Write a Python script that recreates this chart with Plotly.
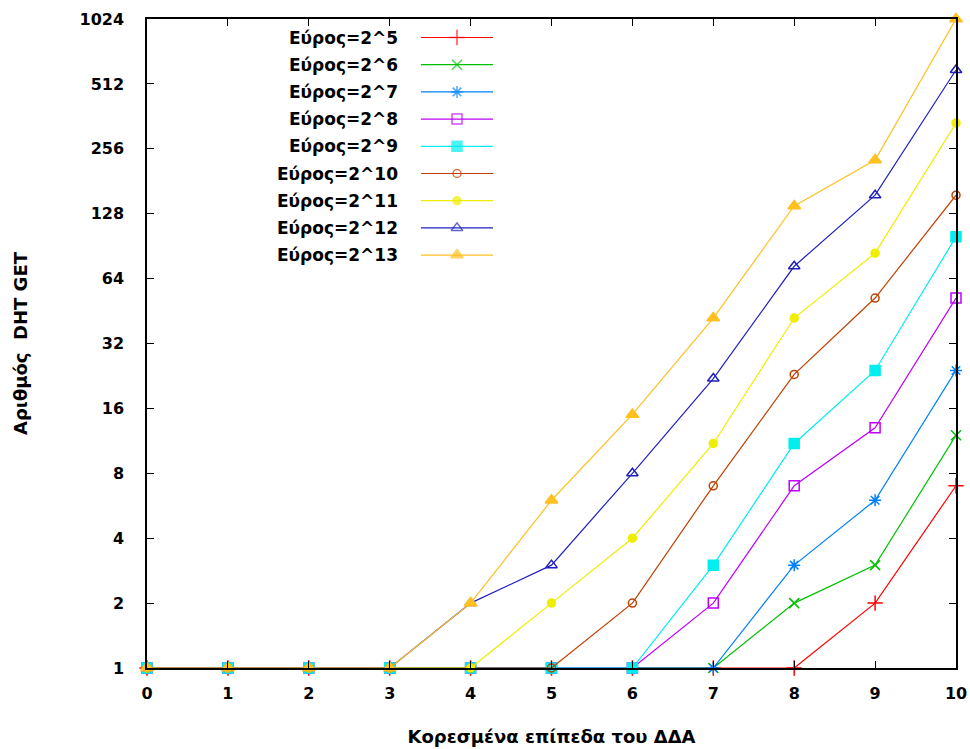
import plotly.graph_objects as go

x_levels = list(range(0, 11))
series_names = ["Εύρος=2^5", "Εύρος=2^6", "Εύρος=2^7", "Εύρος=2^8", "Εύρος=2^9",
                "Εύρος=2^10", "Εύρος=2^11", "Εύρος=2^12", "Εύρος=2^13"]
s2_5 = [1, 1, 1, 1, 1, 1, 1, 1, 1, 2, 7]
s2_6 = [1, 1, 1, 1, 1, 1, 1, 1, 2, 3, 12]
s2_7 = [1, 1, 1, 1, 1, 1, 1, 1, 3, 6, 24]
s2_8 = [1, 1, 1, 1, 1, 1, 1, 2, 7, 13, 52]
s2_9 = [1, 1, 1, 1, 1, 1, 1, 3, 11, 24, 100]
s2_10 = [1, 1, 1, 1, 1, 1, 2, 7, 23, 52, 156]
s2_11 = [1, 1, 1, 1, 1, 2, 4, 11, 42, 84, 337]
s2_12 = [1, 1, 1, 1, 2, 3, 8, 22, 73, 156, 594]
s2_13 = [1, 1, 1, 1, 2, 6, 15, 42, 139, 227, 1024]
all_series = [s2_5, s2_6, s2_7, s2_8, s2_9, s2_10, s2_11, s2_12, s2_13]

y_ticks = [1, 2, 4, 8, 16, 32, 64, 128, 256, 512, 1024]
x_title = "Κορεσμένα επίπεδα του ΔΔΑ"
y_title = "Αριθμός  DHT GET"

colors = ["#ff0000", "#00c000", "#0080ff", "#c000ff", "#00eeee",
          "#c04000", "#eeee00", "#2020c0", "#ffc020"]
symbols = ["cross-thin-open", "x-thin-open", "asterisk-open", "square-open", "square",
           "circle-open", "circle", "triangle-up-open", "triangle-up"]
sizes = [11, 10, 10, 10, 10, 8, 8, 10, 11]

W, H = 970, 749
L, R, T, B = 147, 14, 19, 81

fig = go.Figure()
for name, ys, c, sym, sz in zip(series_names, all_series, colors, symbols, sizes):
    fig.add_trace(go.Scatter(
        x=x_levels, y=ys, mode="lines+markers", name=name, showlegend=False,
        line=dict(color=c, width=1.2),
        marker=dict(symbol=sym, size=sz, color=c, line=dict(color=c, width=1.5)),
        cliponaxis=False,
    ))

# custom gnuplot-style legend (text right, sample on right) in pixel space via overlay axes
row0, row_step = 37.5, 27.2
text_right, line_l, line_r = 400, 421, 493
for i, (name, c, sym, sz) in enumerate(zip(series_names, colors, symbols, sizes)):
    yy = row0 + i * row_step
    fig.add_trace(go.Scatter(
        x=[line_l, (line_l + line_r) / 2, line_r], y=[yy, yy, yy],
        mode="lines+markers", xaxis="x2", yaxis="y2", showlegend=False, hoverinfo="skip",
        line=dict(color=c, width=1.2),
        marker=dict(symbol=sym, size=[0, sz, 0], color=c, line=dict(color=c, width=1.5)),
        cliponaxis=False,
    ))
    fig.add_annotation(x=text_right, y=yy, xref="x2", yref="y2", text=name,
                       showarrow=False, xanchor="right", yanchor="middle",
                       font=dict(family="DejaVu Sans", size=17, color="black", weight="bold"))

axis_font = dict(family="DejaVu Sans", size=16, color="black", weight="bold")
title_font = dict(family="DejaVu Sans", size=18, color="black", weight="bold")
fig.update_layout(
    width=W, height=H,
    margin=dict(l=L, r=R, t=T, b=B, autoexpand=False),
    paper_bgcolor="white", plot_bgcolor="white",
    showlegend=False,
    xaxis=dict(range=[0, 10], tickvals=x_levels, ticks="inside", ticklen=7, tickwidth=1.2,
               tickcolor="black", showline=True, linecolor="black", linewidth=1.5,
               mirror="allticks", showgrid=False, zeroline=False, tickfont=axis_font,
               ticklabelstandoff=10, automargin=False,
               title=dict(text=x_title, font=title_font, standoff=28)),
    yaxis=dict(type="log", range=[0, 3.0103], tickvals=y_ticks, ticktext=[str(v) for v in y_ticks],
               ticks="inside", ticklen=7, tickwidth=1.2, tickcolor="black",
               showline=True, linecolor="black", linewidth=1.5, mirror="allticks",
               showgrid=False, zeroline=False, tickfont=axis_font, ticklabelstandoff=18,
               automargin=False,
               title=dict(text=y_title, font=title_font, standoff=47)),
    xaxis2=dict(range=[L, W - R], overlaying="x", visible=False, fixedrange=True),
    yaxis2=dict(range=[H - B, T], overlaying="y", visible=False, fixedrange=True),
)

fig.write_html("out.html")
